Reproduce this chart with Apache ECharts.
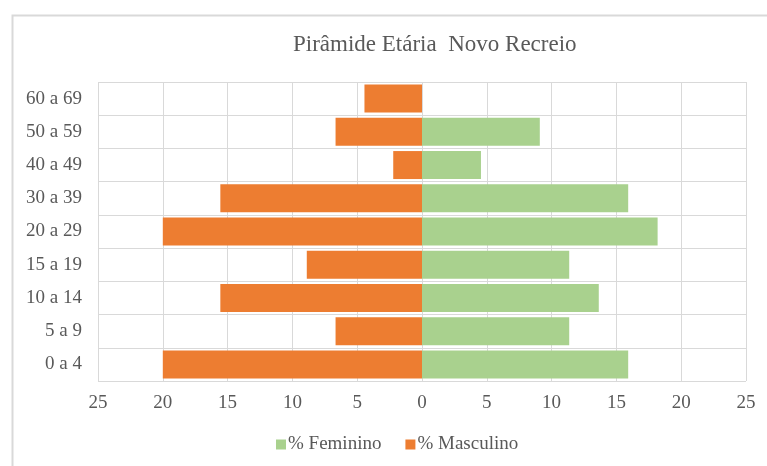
<!DOCTYPE html>
<html>
<head>
<meta charset="utf-8">
<script src="https://cdn.jsdelivr.net/npm/echarts@6/dist/echarts.min.js"></script>
<style>
html,body{margin:0;padding:0;background:#fff;}
#chart{width:767px;height:466px;}
</style>
</head>
<body>
<div id="chart"></div>
<script>
const categories = ['0 a 4','5 a 9','10 a 14','15 a 19','20 a 29','30 a 39','40 a 49','50 a 59','60 a 69'];
const feminino = [15.91, 11.36, 13.64, 11.36, 18.18, 15.91, 4.55, 9.09, 0];
const masculino = [20.0, 6.67, 15.56, 8.89, 20.0, 15.56, 2.22, 6.67, 4.44];
const titleText = 'Pirâmide Etária  Novo Recreio';

const font = '"Liberation Serif", "Times New Roman", serif';
const textColor = '#595959';
const chart = echarts.init(document.getElementById('chart'), null, {renderer:'canvas'});
chart.setOption({
  animation: false,
  backgroundColor: '#fff',
  graphic: [{
    type: 'rect', left: 10, top: 13, z: -10,
    shape: {x: 0, y: 0, width: 800, height: 500},
    style: {fill: 'none', stroke: '#d9d9d9', lineWidth: 2}
  }],
  title: {
    text: titleText, left: 293, top: 33, padding: 0,
    textStyle: {fontFamily: font, fontSize: 23, fontWeight: 'normal', color: textColor}
  },
  legend: {
    data: ['% Feminino', '% Masculino'],
    left: 276, top: 435, padding: 0,
    icon: 'rect', itemWidth: 10, itemHeight: 10, itemGap: 24,
    textStyle: {fontFamily: font, fontSize: 19, color: textColor, padding: [0,0,0,-3]}
  },
  grid: {left: 98, right: 21, top: 82, bottom: 85, containLabel: false},
  xAxis: {
    type: 'value', min: -25, max: 25, interval: 5,
    axisLine: {show: false}, axisTick: {show: false},
    axisLabel: {fontFamily: font, fontSize: 19, color: textColor, margin: 13,
      formatter: v => String(Math.abs(v))},
    splitLine: {show: true, lineStyle: {color: '#d9d9d9', width: 1}}
  },
  yAxis: {
    type: 'category', data: categories,
    axisLine: {show: false}, axisTick: {show: false},
    axisLabel: {fontFamily: font, fontSize: 19, color: textColor, margin: 16},
    splitLine: {show: true, lineStyle: {color: '#d9d9d9', width: 1}}
  },
  series: [
    {name: '% Feminino', type: 'bar', data: feminino, barWidth: 28, barGap: '-100%',
      itemStyle: {color: '#A9D18E'}},
    {name: '% Masculino', type: 'bar', data: masculino.map(v => -v), barWidth: 28,
      itemStyle: {color: '#ED7D31'}}
  ]
});
</script>
</body>
</html>
